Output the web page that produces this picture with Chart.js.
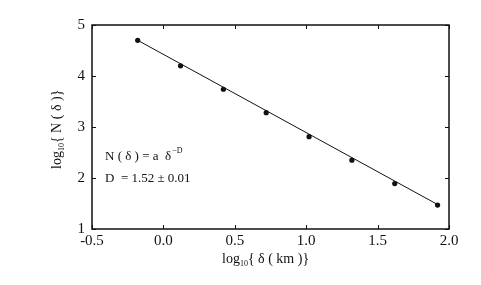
<!DOCTYPE html>
<html>
<head>
<meta charset="utf-8">
<script src="https://cdn.jsdelivr.net/npm/chart.js@4"></script>
<style>
  html, body { margin: 0; padding: 0; background: #fff; }
  #wrap { width: 481px; height: 285px; }
</style>
</head>
<body>
<div id="wrap"><canvas id="fractalChart" width="481" height="285"></canvas></div>
<script>
// box-counting data: log10 of box size vs log10 of box count
const logDelta = [-0.18, 0.12, 0.42, 0.72, 1.02, 1.32, 1.62, 1.92];
const logCount = [4.70, 4.20, 3.74, 3.28, 2.81, 2.35, 1.89, 1.47];

// least-squares fit line endpoints
const fitX = [-0.18, 1.92];
const fitY = [4.70, 1.48];

const xTicks = [-0.5, 0.0, 0.5, 1.0, 1.5, 2.0];
const yTicks = [1, 2, 3, 4, 5];

const serif = '"Liberation Serif", "DejaVu Serif", serif';
const ink = '#111';

// draws frame, inward ticks, axis titles and the fit annotation
const paperPlugin = {
    id: 'paper',
    afterDraw(chart) {
        const ctx = chart.ctx;
        const a = chart.chartArea;
        const xs = chart.scales.x, ys = chart.scales.y;
        ctx.save();
        ctx.strokeStyle = ink;
        ctx.lineWidth = 1.5;
        ctx.strokeRect(a.left, a.top, a.right - a.left, a.bottom - a.top);

        ctx.lineWidth = 1;
        const len = 4;
        xTicks.forEach(v => {
            const px = Math.round(xs.getPixelForValue(v)) + 0.5;
            ctx.beginPath();
            ctx.moveTo(px, a.bottom); ctx.lineTo(px, a.bottom - len);
            ctx.moveTo(px, a.top); ctx.lineTo(px, a.top + len);
            ctx.stroke();
        });
        yTicks.forEach(v => {
            const py = Math.round(ys.getPixelForValue(v)) + 0.5;
            ctx.beginPath();
            ctx.moveTo(a.left, py); ctx.lineTo(a.left + len, py);
            ctx.moveTo(a.right, py); ctx.lineTo(a.right - len, py);
            ctx.stroke();
        });

        ctx.fillStyle = ink;
        ctx.textBaseline = 'alphabetic';

        // x axis title: log10{ δ ( km )}
        drawLogLabel(ctx, 222, 263, '{ \u03b4 ( km )}');

        // y axis title, rotated
        ctx.save();
        ctx.translate(61, 169);
        ctx.rotate(-Math.PI / 2);
        drawLogLabel(ctx, 0, 0, '{ N ( \u03b4 )}');
        ctx.restore();

        // annotation
        ctx.font = '13px ' + serif;
        ctx.textAlign = 'left';
        let t = 'N ( \u03b4 ) = a  \u03b4';
        ctx.fillText(t, 105, 160);
        const w = ctx.measureText(t).width;
        ctx.font = '8px ' + serif;
        ctx.fillText('\u2212D', 105 + w + 1, 153);
        ctx.font = '13px ' + serif;
        ctx.fillText('D  = 1.52 \u00b1 0.01', 105, 182);
        ctx.restore();
    }
};

function drawLogLabel(ctx, x, y, rest) {
    ctx.textAlign = 'left';
    ctx.font = '14px ' + serif;
    ctx.fillText('log', x, y);
    let w = ctx.measureText('log').width;
    ctx.font = '8px ' + serif;
    ctx.fillText('10', x + w, y + 3);
    w += ctx.measureText('10').width;
    ctx.font = '14px ' + serif;
    ctx.fillText(rest, x + w, y);
}

const ctx = document.getElementById('fractalChart').getContext('2d');
new Chart(ctx, {
    type: 'scatter',
    data: {
        datasets: [
            {
                label: 'fit',
                data: fitX.map((x, i) => ({ x: x, y: fitY[i] })),
                showLine: true,
                borderColor: ink,
                borderWidth: 1,
                pointRadius: 0,
                fill: false
            },
            {
                label: 'data',
                data: logDelta.map((x, i) => ({ x: x, y: logCount[i] })),
                showLine: false,
                pointStyle: 'circle',
                pointRadius: 2.6,
                backgroundColor: ink,
                borderColor: ink,
                borderWidth: 0
            }
        ]
    },
    options: {
        responsive: false,
        animation: false,
        layout: { padding: { left: 0, right: 32, top: 25, bottom: 0 } },
        plugins: {
            legend: { display: false },
            tooltip: { enabled: false }
        },
        scales: {
            x: {
                type: 'linear',
                min: -0.5,
                max: 2.0,
                afterBuildTicks: s => { s.ticks = xTicks.map(v => ({ value: v })); },
                afterFit: s => { s.height = 56; },
                grid: { display: false, drawTicks: false },
                border: { display: false },
                ticks: {
                    padding: 3,
                    color: ink,
                    font: { family: serif, size: 15 },
                    callback: v => v.toFixed(1)
                }
            },
            y: {
                type: 'linear',
                min: 1,
                max: 5,
                afterBuildTicks: s => { s.ticks = yTicks.map(v => ({ value: v })); },
                afterFit: s => { s.width = 92; },
                grid: { display: false, drawTicks: false },
                border: { display: false },
                ticks: {
                    padding: 7,
                    color: ink,
                    font: { family: serif, size: 15 },
                    callback: v => String(v)
                }
            }
        }
    },
    plugins: [paperPlugin]
});
</script>
</body>
</html>
